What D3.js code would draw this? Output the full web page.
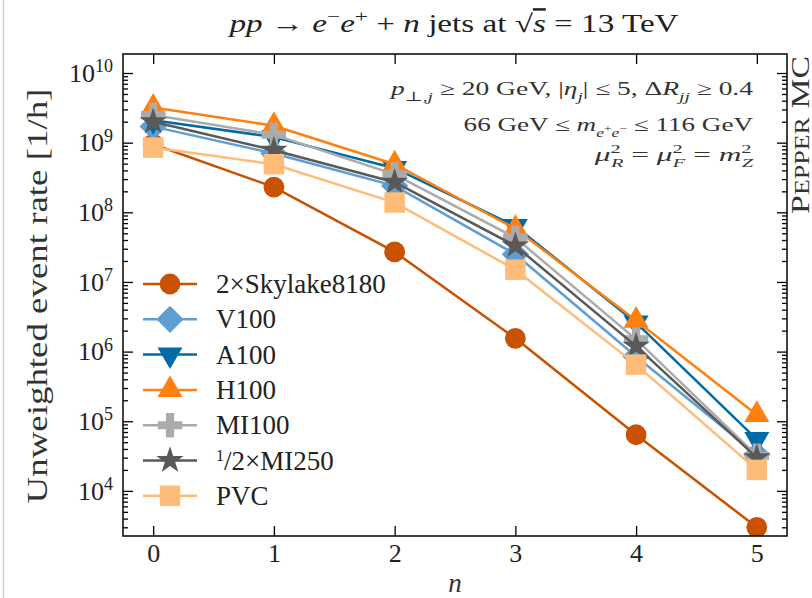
<!DOCTYPE html>
<html>
<head>
<meta charset="utf-8">
<script src="https://cdn.jsdelivr.net/npm/d3@7/dist/d3.min.js"></script>
<style>
  body { margin: 0; background: #fff; }
  svg { display: block; font-family: "Liberation Serif", "DejaVu Serif", serif; }
</style>
</head>
<body>
<div id="chart"></div>
<script>
// jet multiplicity n
var nJets = [0, 1, 2, 3, 4, 5];

// unweighted event rate [1/h] per device
var skylake = [9.5e8, 2.3e8, 2.7e7, 1.55e6, 6.4e4, 3.0e3];
var v100    = [1.7e9, 7.0e8, 2.4e8, 2.5e7, 8.5e5, 3.3e4];
var a100    = [2.1e9, 1.2e9, 4.3e8, 6.3e7, 2.6e6, 5.5e4];
var h100    = [3.2e9, 1.75e9, 4.9e8, 5.8e7, 2.8e6, 1.24e5];
var mi100   = [2.5e9, 1.3e9, 3.5e8, 4.3e7, 1.5e6, 3.2e4];
var mi250   = [2.0e9, 7.8e8, 2.7e8, 3.3e7, 1.2e6, 3.0e4];
var pvc     = [8.5e8, 4.9e8, 1.38e8, 1.5e7, 6.5e5, 2.0e4];

var seriesNames   = ["2×Skylake8180", "V100", "A100", "H100", "MI100", "1/2×MI250", "PVC"];
var seriesValues  = [skylake, v100, a100, h100, mi100, mi250, pvc];
var seriesColors  = ["#C85200", "#5F9ED1", "#006BA4", "#FF800E", "#ABABAB", "#595959", "#FFBC79"];
var seriesMarkers = ["circle", "diamond", "triangleDown", "triangleUp", "plus", "star", "square"];

var xTickValues = [0, 1, 2, 3, 4, 5];
var yExponents  = [4, 5, 6, 7, 8, 9, 10];

var W = 812, H = 598;
var pL = 123, pR = 787, pT = 54, pB = 536;

var svg = d3.select("#chart").append("svg")
    .attr("width", W)
    .attr("height", H);

// faint edge of the screenshot
svg.append("line")
    .attr("x1", 3.5).attr("x2", 3.5).attr("y1", 0).attr("y2", H)
    .style("stroke", "#d0d0d0").style("stroke-width", 1.5);

var x = d3.scaleLinear().domain([-0.25, 5.25]).range([pL, pR]);
var y = d3.scaleLog().domain([2250, 1.875e10]).range([pB, pT]);

var yMajor = yExponents.map(function (e) { return Math.pow(10, e); });
var yMinor = [];
d3.range(3, 11).forEach(function (e) {
    d3.range(2, 10).forEach(function (k) {
        var v = k * Math.pow(10, e);
        if (v > y.domain()[0] && v < y.domain()[1]) yMinor.push(v);
    });
});

// rich text helper: sub/superscripts and italics through tspans
function rich(sel, parts, fs) {
    var cur = 0;
    parts.forEach(function (p) {
        var off = (p.off || 0) * fs;
        var ts = sel.append("tspan").text(p.t).attr("dy", off - cur);
        if (p.dx) ts.attr("dx", p.dx);
        if (p.it) ts.style("font-style", "italic");
        if (p.sz) ts.style("font-size", (p.sz * fs) + "px");
        if (p.ol) ts.style("text-decoration", "overline");
        cur = off;
    });
}

// the TeX fonts run wider than Liberation Serif: stretch a text sideways to the width it has in the figure
function fitWidth(sel, target, ox, base) {
    var w = sel.node().getBBox().width;
    var k = target / w;
    sel.attr("transform", (base || "") + " translate(" + ox + ",0) scale(" + k + ",1) translate(" + (-ox) + ",0)");
}

// axes, ticks inward on all four sides
function styleAxis(g) {
    g.select(".domain").remove();
    g.selectAll(".tick line").style("stroke", "#000").style("stroke-width", 1.3);
}

svg.append("g")
    .attr("transform", "translate(0," + pB + ")")
    .call(d3.axisBottom(x).tickValues(xTickValues).tickSizeInner(-10).tickSizeOuter(0).tickPadding(8).tickFormat(d3.format("d")))
    .call(styleAxis)
    .selectAll("text").style("font-size", "26px").style("font-family", "Liberation Serif").attr("fill", "#222");

svg.append("g")
    .attr("transform", "translate(0," + pT + ")")
    .call(d3.axisTop(x).tickValues(xTickValues).tickSizeInner(-10).tickSizeOuter(0).tickFormat(""))
    .call(styleAxis);

var yLeft = svg.append("g")
    .attr("transform", "translate(" + pL + ",0)")
    .call(d3.axisLeft(y).tickValues(yMajor).tickSizeInner(-10).tickSizeOuter(0).tickPadding(10).tickFormat(function () { return ""; }))
    .call(styleAxis);
yLeft.selectAll(".tick text")
    .style("font-size", "26px").style("font-family", "Liberation Serif").attr("fill", "#222")
    .each(function (d) {
        var t = d3.select(this);
        t.text("10");
        t.append("tspan").attr("dy", "-0.55em").style("font-size", "18px")
            .text(Math.round(Math.log10(d)));
    });

svg.append("g")
    .attr("transform", "translate(" + pL + ",0)")
    .call(d3.axisLeft(y).tickValues(yMinor).tickSizeInner(-5).tickSizeOuter(0).tickFormat(""))
    .call(styleAxis);
svg.append("g")
    .attr("transform", "translate(" + pR + ",0)")
    .call(d3.axisRight(y).tickValues(yMajor).tickSizeInner(-10).tickSizeOuter(0).tickFormat(""))
    .call(styleAxis);
svg.append("g")
    .attr("transform", "translate(" + pR + ",0)")
    .call(d3.axisRight(y).tickValues(yMinor).tickSizeInner(-5).tickSizeOuter(0).tickFormat(""))
    .call(styleAxis);

// series
svg.append("clipPath").attr("id", "plotclip")
    .append("rect").attr("x", pL).attr("y", pT).attr("width", pR - pL).attr("height", pB - pT);

function markerPath(kind) {
    if (kind === "circle") return d3.symbol(d3.symbolCircle, 340)();
    if (kind === "square") return d3.symbol(d3.symbolSquare, 420)();
    if (kind === "diamond") return d3.symbol(d3.symbolSquare, 370)();
    if (kind === "triangleUp" || kind === "triangleDown") return d3.symbol(d3.symbolTriangle, 270)();
    if (kind === "plus") return d3.symbol(d3.symbolCross, 330)();
    if (kind === "star") return d3.symbol(d3.symbolStar, 230)();
}
function markerRotate(kind) {
    if (kind === "diamond") return 45;
    if (kind === "triangleDown") return 180;
    return 0;
}

var plot = svg.append("g").attr("clip-path", "url(#plotclip)");
var line = d3.line()
    .x(function (d, i) { return x(nJets[i]); })
    .y(function (d) { return y(d); });

seriesValues.forEach(function (vals, s) {
    var g = plot.append("g").attr("class", "series");
    g.append("path")
        .datum(vals)
        .attr("d", line)
        .style("fill", "none")
        .style("stroke", seriesColors[s])
        .style("stroke-width", 2.5);
    g.selectAll("path.marker")
        .data(vals)
        .enter().append("path")
        .attr("class", "marker")
        .attr("d", markerPath(seriesMarkers[s]))
        .attr("transform", function (d, i) {
            return "translate(" + x(nJets[i]) + "," + y(d) + ") rotate(" + markerRotate(seriesMarkers[s]) + ")";
        })
        .style("fill", seriesColors[s]);
});

// frame
svg.append("rect")
    .attr("x", pL).attr("y", pT)
    .attr("width", pR - pL).attr("height", pB - pT)
    .style("fill", "none").style("stroke", "#111").style("stroke-width", 1.6);

// legend
var legend = svg.append("g").attr("transform", "translate(143,284)");
seriesNames.forEach(function (name, s) {
    var row = legend.append("g").attr("transform", "translate(0," + (s * 35.3) + ")");
    row.append("line").attr("x1", 0).attr("x2", 54).attr("y1", 0).attr("y2", 0)
        .style("stroke", seriesColors[s]).style("stroke-width", 2.5);
    row.append("path")
        .attr("d", markerPath(seriesMarkers[s]))
        .attr("transform", "translate(27,0) rotate(" + markerRotate(seriesMarkers[s]) + ")")
        .style("fill", seriesColors[s]);
    var txt = row.append("text").attr("x", 73).attr("y", 9)
        .style("font-size", "27px").attr("fill", "#222");
    if (name.indexOf("1/2") === 0) {
        rich(txt, [{ t: "1", off: -0.3, sz: 0.6 }, { t: "/2×MI250" }], 27);
    } else {
        txt.text(name);
    }
});

// title
var title = svg.append("text")
    .attr("x", 454).attr("y", 32)
    .attr("text-anchor", "middle")
    .style("font-size", "25px").attr("fill", "#222");
rich(title, [
    { t: "pp", it: true }, { t: " → " }, { t: "e", it: true }, { t: "−", off: -0.4, sz: 0.7 },
    { t: "e", it: true }, { t: "+", off: -0.4, sz: 0.7 }, { t: " + " }, { t: "n", it: true },
    { t: " jets at √" }, { t: "s", it: true, ol: true }, { t: " = 13 TeV" }
], 25);
fitWidth(title, 452, 454);

// cut annotations
var afs = 19;
var a1 = svg.append("text").attr("x", 753).attr("y", 95).attr("text-anchor", "end")
    .style("font-size", afs + "px").attr("fill", "#333");
rich(a1, [
    { t: "p", it: true }, { t: "⊥,", off: 0.3, sz: 0.7 }, { t: "j", it: true, off: 0.3, sz: 0.7 },
    { t: " ≥ 20 GeV, |" }, { t: "η", it: true }, { t: "j", it: true, off: 0.3, sz: 0.7 },
    { t: "| ≤ 5, Δ" }, { t: "R", it: true }, { t: "jj", it: true, off: 0.3, sz: 0.7 }, { t: " ≥ 0.4" }
], afs);
fitWidth(a1, 366, 753);

var a2 = svg.append("text").attr("x", 753).attr("y", 131).attr("text-anchor", "end")
    .style("font-size", afs + "px").attr("fill", "#333");
rich(a2, [
    { t: "66 GeV ≤ " }, { t: "m", it: true },
    { t: "e", it: true, off: 0.3, sz: 0.65 }, { t: "+", off: 0.05, sz: 0.5 },
    { t: "e", it: true, off: 0.3, sz: 0.65 }, { t: "−", off: 0.05, sz: 0.5 },
    { t: " ≤ 116 GeV" }
], afs);
fitWidth(a2, 290, 753);

var a3 = svg.append("text").attr("x", 753).attr("y", 161).attr("text-anchor", "end")
    .style("font-size", afs + "px").attr("fill", "#333");
rich(a3, [
    { t: "μ", it: true }, { t: "2", off: -0.4, sz: 0.65 }, { t: "R", it: true, off: 0.3, sz: 0.65, dx: -6 },
    { t: " = " }, { t: "μ", it: true }, { t: "2", off: -0.4, sz: 0.65 }, { t: "F", it: true, off: 0.3, sz: 0.65, dx: -6 },
    { t: " = " }, { t: "m", it: true }, { t: "2", off: -0.4, sz: 0.65 }, { t: "Z", it: true, off: 0.3, sz: 0.65, dx: -6 }
], afs);
fitWidth(a3, 160, 753);

// axis labels
var ylab = svg.append("text")
    .attr("text-anchor", "middle")
    .style("font-size", "29px").attr("fill", "#333")
    .text("Unweighted event rate [1/h]");
fitWidth(ylab, 415, 0, "translate(47,296) rotate(-90)");

svg.append("text")
    .attr("x", 455).attr("y", 592)
    .attr("text-anchor", "middle")
    .style("font-size", "27px").style("font-style", "italic").attr("fill", "#333")
    .text("n");

// generator tag
var tag = svg.append("text")
    .attr("text-anchor", "end")
    .style("font-size", "26px").attr("fill", "#333");
tag.append("tspan").text("P");
tag.append("tspan").style("font-size", "20px").text("EPPER");
tag.append("tspan").text(" MC");
fitWidth(tag, 158, 0, "translate(809,56) rotate(-90)");
</script>
</body>
</html>
